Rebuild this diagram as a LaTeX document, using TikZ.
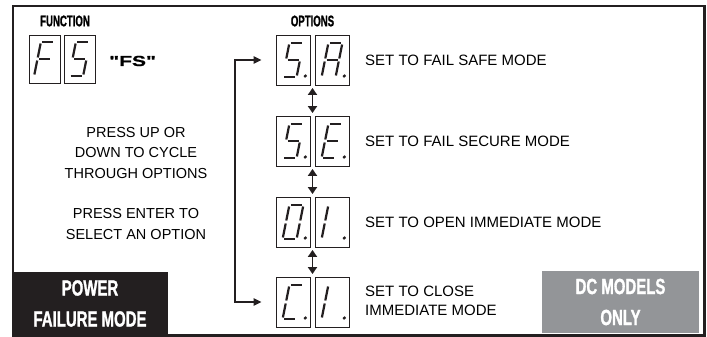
\documentclass[tikz,border=0pt]{standalone}
\usepackage{fontspec}
\setmainfont{Liberation Sans}
\newfontfamily\condbf[FakeStretch=0.68, FakeBold=1.2]{Liberation Sans Bold}
\newfontfamily\headbf[FakeStretch=0.62, FakeBold=1]{Liberation Sans Bold}
\newfontfamily\widebf[FakeStretch=1.45, FakeBold=1]{Liberation Sans Bold}
\usetikzlibrary{arrows.meta, calc}
\definecolor{ink}{HTML}{231F20}
\definecolor{panelgray}{HTML}{939598}

\tikzset{
  digitbox/.style={draw=ink, line width=0.9pt, minimum width=34pt, minimum height=50pt, inner sep=0pt},
  fsbox/.style={digitbox, minimum width=31pt, minimum height=48pt},
  seg/.style={ink, line width=2.2pt},
  heading/.style={font=\headbf\fontsize{15.5}{17}\selectfont, inner sep=0pt},
  optlabel/.style={font=\fontsize{15}{18.5}\selectfont, anchor=west, align=left, inner sep=0pt},
  helptext/.style={font=\fontsize{14.5}{20.5}\selectfont, align=center, inner sep=0pt},
  badge/.style={text=white, font=\condbf\fontsize{22}{31}\selectfont, align=center, inner sep=0pt},
  flow/.style={ink, line width=1.5pt, {Triangle[length=8pt,width=7.5pt]}-{Triangle[length=8pt,width=7.5pt]}},
  updown/.style={ink, line width=1.8pt, {Triangle[length=7pt,width=9pt]}-{Triangle[length=7pt,width=9pt]}, shorten <=2.5pt, shorten >=2.5pt},
}

% seven segment glyph inside a digit box: #1 box, #2 segments, #3 dot (1/0)
\newcommand{\segdigit}[3]{%
  \begin{scope}[shift={(#1.center)}, xslant=0.2]
    \coordinate (a1) at (-5.5,-17); \coordinate (a2) at (5.5,-17);
    \coordinate (b1) at (7,-15.5);  \coordinate (b2) at (7,-1.5);
    \coordinate (c1) at (7,1.5);    \coordinate (c2) at (7,15.5);
    \coordinate (d1) at (-5.5,17);  \coordinate (d2) at (5.5,17);
    \coordinate (e1) at (-7,1.5);   \coordinate (e2) at (-7,15.5);
    \coordinate (f1) at (-7,-15.5); \coordinate (f2) at (-7,-1.5);
    \coordinate (g1) at (-5.5,0);   \coordinate (g2) at (5.5,0);
    \foreach \s in {#2} {\draw[seg] (\s1) -- (\s2);}
    \ifnum#3=1 \fill[ink] (15.5,16) circle[radius=1.8pt]; \fi
  \end{scope}}

\begin{document}
\begin{tikzpicture}[x=1pt, y=-1pt]

    \useasboundingbox (0,0) rectangle (707,337);

    % Bottom panels
    \node[badge, fill=ink, minimum width=156pt, minimum height=64pt] (pfm) at (90,303.5) {POWER\\FAILURE MODE};
    \node[badge, fill=panelgray, minimum width=157pt, minimum height=62pt] (dconly) at (620.5,302) {DC MODELS\\ONLY};

    % Outer frame
    \draw[ink, line width=2.3pt] (13,6) rectangle (704.5,335.5);

    % Function display
    \node[heading] (funchead) at (65,21) {FUNCTION};
    \node[fsbox] (fsF) at (44.5,59) {};
    \node[fsbox] (fsS) at (79.5,59) {};
    \node[font=\widebf\fontsize{14.5}{16}\selectfont, anchor=west, inner sep=0pt] (fsname) at (109,61) {"FS"};

    % Option displays
    \node[heading] (opthead) at (312.5,21) {OPTIONS};
    \node[digitbox] (sa1) at (293,60) {};
    \node[digitbox] (sa2) at (332,60) {};
    \node[digitbox] (se1) at (293,141) {};
    \node[digitbox] (se2) at (332,141) {};
    \node[digitbox] (oi1) at (293,222) {};
    \node[digitbox] (oi2) at (332,222) {};
    \node[digitbox] (ci1) at (293,302) {};
    \node[digitbox] (ci2) at (332,302) {};

    % Glyphs
    \segdigit{fsF}{a,f,e,g}{0}
    \segdigit{fsS}{a,f,g,c,d}{0}
    \segdigit{sa1}{a,f,g,c,d}{1}
    \segdigit{sa2}{a,b,c,e,f,g}{1}
    \segdigit{se1}{a,f,g,c,d}{1}
    \segdigit{se2}{a,f,g,e,d}{1}
    \segdigit{oi1}{a,b,c,d,e,f}{1}
    \segdigit{oi2}{f,e}{1}
    \segdigit{ci1}{a,f,e,d}{1}
    \segdigit{ci2}{f,e}{1}

    % Option texts
    \node[optlabel] (salabel) at (365,60) {SET TO FAIL SAFE MODE};
    \node[optlabel] (selabel) at (365,141) {SET TO FAIL SECURE MODE};
    \node[optlabel] (oilabel) at (365,222) {SET TO OPEN IMMEDIATE MODE};
    \node[optlabel] (cilabel) at (365,301) {SET TO CLOSE\\IMMEDIATE MODE};

    % Instructions
    \node[helptext] (cycle) at (136,153) {PRESS UP OR\\DOWN TO CYCLE\\THROUGH OPTIONS};
    \node[helptext] (enter) at (136,224) {PRESS ENTER TO\\SELECT AN OPTION};

    % Loop back from last option to first
    \coordinate (loopTop) at (235,60);
    \coordinate (loopBot) at (235,302);
    \draw[flow, shorten <=14pt, shorten >=14pt] (sa1.west) -- (loopTop) -- (loopBot) -- (ci1.west);

    % Up/down arrows between options
    \coordinate (gapSA) at ($(sa1.south east)!0.5!(sa2.south west)$);
    \coordinate (gapSEt) at ($(se1.north east)!0.5!(se2.north west)$);
    \coordinate (gapSEb) at ($(se1.south east)!0.5!(se2.south west)$);
    \coordinate (gapOIt) at ($(oi1.north east)!0.5!(oi2.north west)$);
    \coordinate (gapOIb) at ($(oi1.south east)!0.5!(oi2.south west)$);
    \coordinate (gapCI) at ($(ci1.north east)!0.5!(ci2.north west)$);
    \draw[updown] (gapSA) -- (gapSEt);
    \draw[updown] (gapSEb) -- (gapOIt);
    \draw[updown] (gapOIb) -- (gapCI);

\end{tikzpicture}
\end{document}
